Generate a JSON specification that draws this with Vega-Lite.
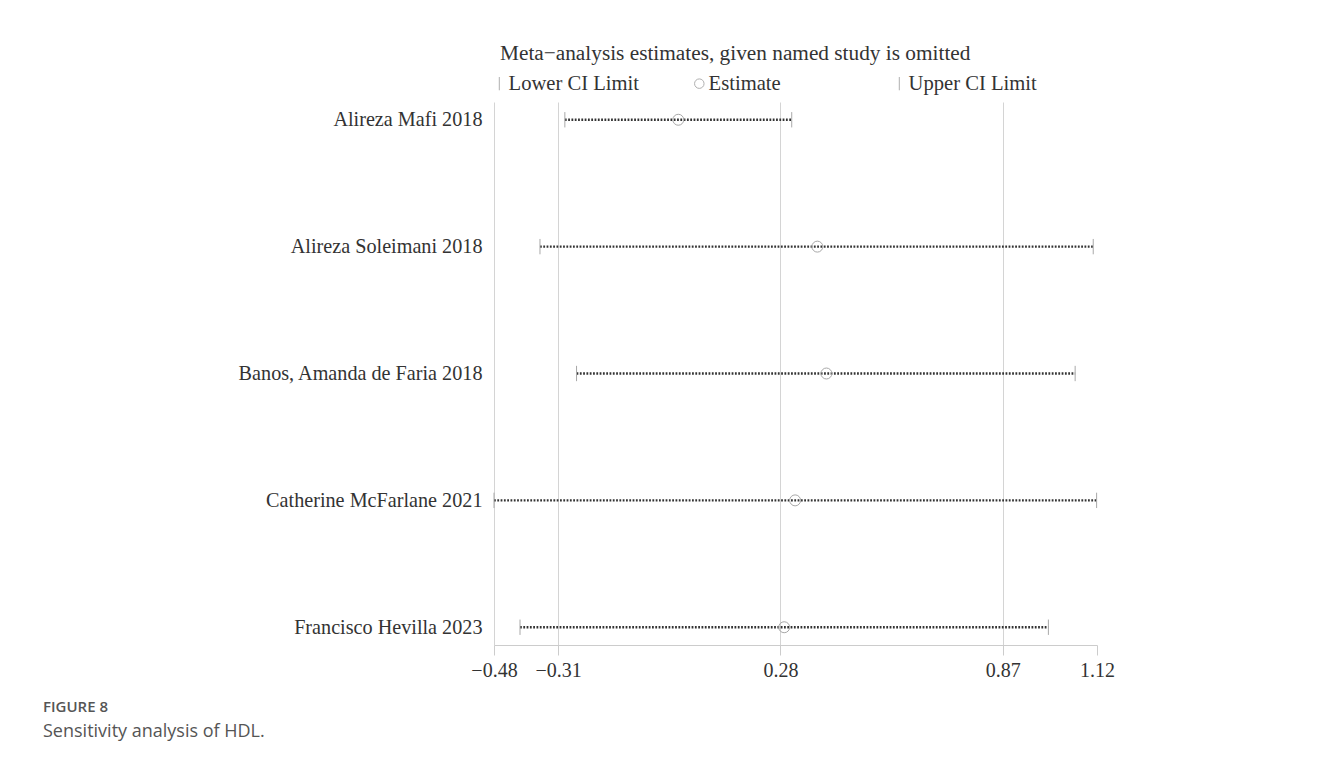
{
  "$schema": "https://vega.github.io/schema/vega-lite/v6.json",
  "width": 603,
  "height": 543,
  "autosize": {"type": "none"},
  "padding": {"left": 494, "top": 102, "right": 234, "bottom": 117},
  "background": "white",
  "config": {"view": {"stroke": null}, "font": "Liberation Serif"},
  "title": {
    "text": "FIGURE 8",
    "subtitle": "Sensitivity analysis of HDL.",
    "orient": "bottom",
    "anchor": "start",
    "frame": "group",
    "dx": -451,
    "offset": 20,
    "font": "Open Sans",
    "fontSize": 15,
    "fontWeight": 600,
    "color": "#555555",
    "subtitleFont": "Open Sans",
    "subtitleFontSize": 18,
    "subtitleFontWeight": "normal",
    "subtitleColor": "#555555",
    "subtitlePadding": 8
  },
  "data": {
    "values": [
      {"study": "Alireza Mafi 2018", "Lower CI Limit": -0.292, "Estimate": 0.009, "Upper CI Limit": 0.31},
      {"study": "Alireza Soleimani 2018", "Lower CI Limit": -0.358, "Estimate": 0.378, "Upper CI Limit": 1.11},
      {"study": "Banos, Amanda de Faria 2018", "Lower CI Limit": -0.261, "Estimate": 0.402, "Upper CI Limit": 1.062},
      {"study": "Catherine McFarlane 2021", "Lower CI Limit": -0.48, "Estimate": 0.319, "Upper CI Limit": 1.119},
      {"study": "Francisco Hevilla 2023", "Lower CI Limit": -0.411, "Estimate": 0.29, "Upper CI Limit": 0.991}
    ]
  },
  "encoding": {
    "y": {
      "field": "study",
      "type": "nominal",
      "sort": null,
      "scale": {"type": "point", "padding": 0.14},
      "axis": {
        "title": null,
        "domain": false,
        "ticks": false,
        "grid": false,
        "labelFont": "Liberation Serif",
        "labelFontSize": 20.2,
        "labelColor": "#333333",
        "labelPadding": 12,
        "labelLimit": 400
      }
    }
  },
  "layer": [
    {
      "mark": {"type": "rule", "strokeDash": [1.8, 1.5], "strokeWidth": 2.4, "color": "#333333"},
      "encoding": {
        "x": {
          "field": "Lower CI Limit",
          "type": "quantitative",
          "scale": {"domain": [-0.48, 1.12], "nice": false, "zero": false},
          "axis": {
            "title": null,
            "values": [-0.48, -0.31, 0.28, 0.87, 1.12],
            "format": ".2f",
            "grid": true,
            "gridColor": "#d4d4d4",
            "gridOpacity": {"condition": {"test": "datum.value > 1", "value": 0}, "value": 1},
            "domainColor": "#cccccc",
            "tickColor": "#cccccc",
            "tickSize": 10,
            "labelFlush": false,
            "labelFont": "Liberation Serif",
            "labelFontSize": 20,
            "labelColor": "#333333",
            "labelPadding": 5
          }
        },
        "x2": {"field": "Upper CI Limit"}
      }
    },
    {
      "transform": [{"fold": ["Lower CI Limit", "Estimate", "Upper CI Limit"], "as": ["kind", "value"]}],
      "mark": {"type": "point", "filled": false, "color": "#a8a8a8", "strokeWidth": 1, "size": 120, "opacity": 1},
      "encoding": {
        "x": {"field": "value", "type": "quantitative"},
        "shape": {
          "field": "kind",
          "type": "nominal",
          "scale": {
            "domain": ["Lower CI Limit", "Estimate", "Upper CI Limit"],
            "range": ["M0,-1.4L0,1.4", "circle", "M0,-1.4L0,1.4"]
          },
          "legend": {
            "orient": "none",
            "legendX": 6,
            "legendY": -59,
            "direction": "horizontal",
            "columns": 3,
            "gridAlign": "all",
            "columnPadding": 52,
            "title": "Meta−analysis estimates, given named study is omitted",
            "titleFont": "Liberation Serif",
            "titleFontSize": 21.3,
            "titleFontWeight": "normal",
            "titleColor": "#333333",
            "titleLimit": 800,
            "titlePadding": 9,
            "labelFont": "Liberation Serif",
            "labelFontSize": 20.6,
            "labelColor": "#333333",
            "labelOffset": -1,
            "labelLimit": 300,
            "symbolOffset": -11,
            "symbolSize": 90,
            "symbolStrokeWidth": 1,
            "symbolStrokeColor": "#b0b0b0"
          }
        }
      }
    }
  ]
}
